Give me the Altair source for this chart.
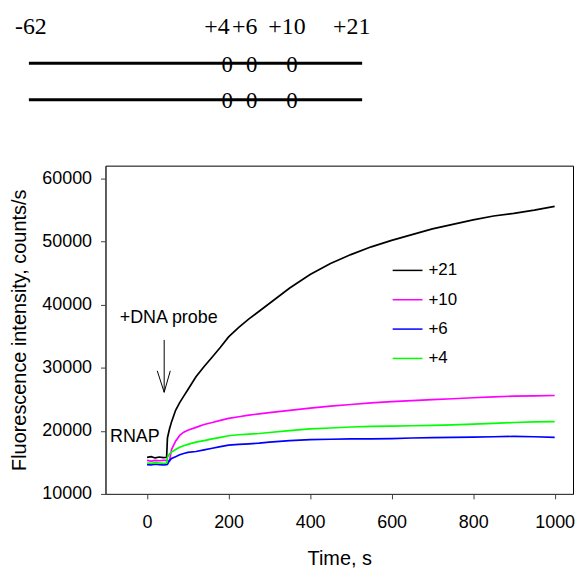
import altair as alt
import pandas as pd

# ---------------- schematic of the DNA probe (schematic units = page pixels) ----------------
site_labels = ["-62", "+4", "+6", "+10", "+21"]
site_label_x = [30, 217, 245, 287.5, 352.5]
label_baseline_y = 32
mod_x = [227.5, 252, 292.5]            # modified positions (+4, +6, +10)
mod_baseline_y = [70, 106]
strand_x_start = 28
strand_x_end = 363
strand_y = [61, 97.7]

# ---------------- kinetic traces ----------------
times = [0, 10, 20, 30, 40, 48, 50, 55, 60, 70, 80, 90, 100, 120, 140, 160, 180, 200,
         225, 250, 275, 300, 350, 400, 450, 500, 550, 600, 650, 700, 750, 800, 850,
         900, 950, 1000]
sig_p21 = [15800, 15900, 15700, 15850, 15750, 15800, 18860, 20290, 21410, 23240, 24470,
           25490, 26510, 28545, 30180, 31700, 33230, 34870, 36390, 37720, 38940, 40170,
           42610, 44750, 46490, 47910, 49140, 50160, 51070, 51990, 52700, 53420, 54030,
           54440, 54950, 55560]
sig_p10 = [15300, 15200, 15300, 15250, 15300, 15300, 15300, 15200, 17030, 18350, 19270,
           19780, 20080, 20540, 21000, 21310, 21660, 21970, 22225, 22480, 22680, 22890,
           23240, 23600, 23910, 24160, 24420, 24620, 24770, 24930, 25080, 25230, 25385,
           25490, 25540, 25590]
sig_p6 = [14650, 14600, 14700, 14650, 14600, 14650, 14700, 15290, 15600, 15900, 16210,
          16410, 16570, 16720, 16975, 17230, 17485, 17740, 17840, 17940, 18040, 18200,
          18450, 18610, 18660, 18710, 18710, 18760, 18860, 18910, 18960, 19010, 19060,
          19110, 19060, 18960]
sig_p4 = [14900, 14850, 14950, 14900, 14850, 14900, 15800, 16310, 16620, 17030, 17380,
          17640, 17840, 18200, 18450, 18710, 18960, 19220, 19370, 19470, 19570, 19730,
          20030, 20290, 20440, 20600, 20700, 20750, 20800, 20850, 20950, 21050, 21160,
          21310, 21410, 21460]

series_names = ["+21", "+10", "+6", "+4"]
series_colors = ["#000000", "#ff00ff", "#0000ff", "#00ff00"]

x_ticks = [0, 200, 400, 600, 800, 1000]
y_ticks = [10000, 20000, 30000, 40000, 50000, 60000]

annot_text = ["RNAP", "+DNA probe"]
annot_t = [-30, 53]
annot_v = [19000, 37900]

# arrow: shaft + two head strokes
arrow_t1 = [42, 25, 57]
arrow_v1 = [34400, 29500, 29500]
arrow_t2 = [42, 42, 42]
arrow_v2 = [26100, 26100, 26100]

# ---------------- build tables ----------------
rows = []
for name, vals in zip(series_names, [sig_p21, sig_p10, sig_p6, sig_p4]):
    for t, v in zip(times, vals):
        rows.append({"t": t, "v": v, "series": name})
traces = pd.DataFrame(rows)

annot = pd.DataFrame({"t": annot_t, "v": annot_v, "label": annot_text})
arrow = pd.DataFrame({"t": arrow_t1, "v": arrow_v1, "t2": arrow_t2, "v2": arrow_v2})

# the schematic's plot area is aligned with the kinetic plot's (left edge at page x = 105)
DW, DH = 400, 110
dx_scale = alt.Scale(domain=[105, 105 + DW], nice=False, zero=False)
dy_scale = alt.Scale(domain=[8, 8 + DH], reverse=True, nice=False, zero=False)

strands = pd.DataFrame({"x": [strand_x_start] * 2, "x2": [strand_x_end] * 2, "y": strand_y})
labels = pd.DataFrame({"x": site_label_x, "y": [label_baseline_y] * len(site_labels),
                       "label": site_labels})
mods = pd.DataFrame([{"x": mx, "y": my} for my in mod_baseline_y for mx in mod_x])

strand_layer = alt.Chart(strands).mark_rule(color="black", strokeWidth=3).encode(
    x=alt.X("x:Q", scale=dx_scale, axis=None),
    x2="x2:Q",
    y=alt.Y("y:Q", scale=dy_scale, axis=None),
)
label_layer = alt.Chart(labels).mark_text(
    font="Liberation Serif", fontSize=24, baseline="alphabetic", align="center", color="black"
).encode(
    x=alt.X("x:Q", scale=dx_scale, axis=None),
    y=alt.Y("y:Q", scale=dy_scale, axis=None),
    text="label:N",
)
mod_layer = alt.Chart(mods).mark_text(
    font="Liberation Serif", fontSize=23, baseline="alphabetic", align="center", color="black",
    text="0"
).encode(
    x=alt.X("x:Q", scale=dx_scale, axis=None),
    y=alt.Y("y:Q", scale=dy_scale, axis=None),
)
diagram = alt.layer(strand_layer, mod_layer, label_layer).properties(
    width=DW, height=DH, view=alt.ViewBackground(stroke="transparent")
)

# ---------------- kinetic plot ----------------
x_scale = alt.Scale(domain=[-102, 1045], nice=False, zero=False)
y_scale = alt.Scale(domain=[10000, 62000], nice=False, zero=False)

lines = alt.Chart(traces).mark_line(strokeWidth=1.7).encode(
    x=alt.X("t:Q", scale=x_scale,
            axis=alt.Axis(values=x_ticks, title="Time, s", format="d",
                          labelPadding=15, titlePadding=16.5)),
    y=alt.Y("v:Q", scale=y_scale,
            axis=alt.Axis(values=y_ticks, title="Fluorescence intensity, counts/s",
                          format="d", labelPadding=9, titlePadding=12.5)),
    color=alt.Color("series:N",
                    scale=alt.Scale(domain=series_names, range=series_colors),
                    legend=alt.Legend(orient="none", legendX=287.7, legendY=245.3,
                                      title=None, symbolType="stroke", symbolSize=900,
                                      symbolStrokeWidth=1.5, labelFontSize=17,
                                      labelFont="Liberation Sans", labelColor="black",
                                      rowPadding=5.5, padding=0, labelOffset=5,
                                      direction="vertical")),
    detail="series:N",
)
annot_layer = alt.Chart(annot).mark_text(
    font="Liberation Sans", fontSize=18, align="center", baseline="middle", color="black"
).encode(x="t:Q", y="v:Q", text="label:N")
arrow_layer = alt.Chart(arrow).mark_rule(color="black", strokeWidth=1).encode(
    x="t:Q", x2="t2:Q", y="v:Q", y2="v2:Q"
)

plot = alt.layer(lines, annot_layer, arrow_layer).properties(
    width=470, height=330, view=alt.ViewBackground(stroke="black", strokeWidth=1)
)

chart = alt.vconcat(diagram, plot, spacing=44).properties(padding=0).configure_axis(
    grid=False,
    labelFont="Liberation Sans",
    titleFont="Liberation Sans",
    labelFontSize=18,
    titleFontSize=20,
    titleFontWeight="normal",
    labelColor="black",
    titleColor="black",
    domainColor="#404040",
    tickColor="#404040",
    tickSize=5,
)

chart.save("out.html", embed_options={"renderer": "svg", "actions": False})
